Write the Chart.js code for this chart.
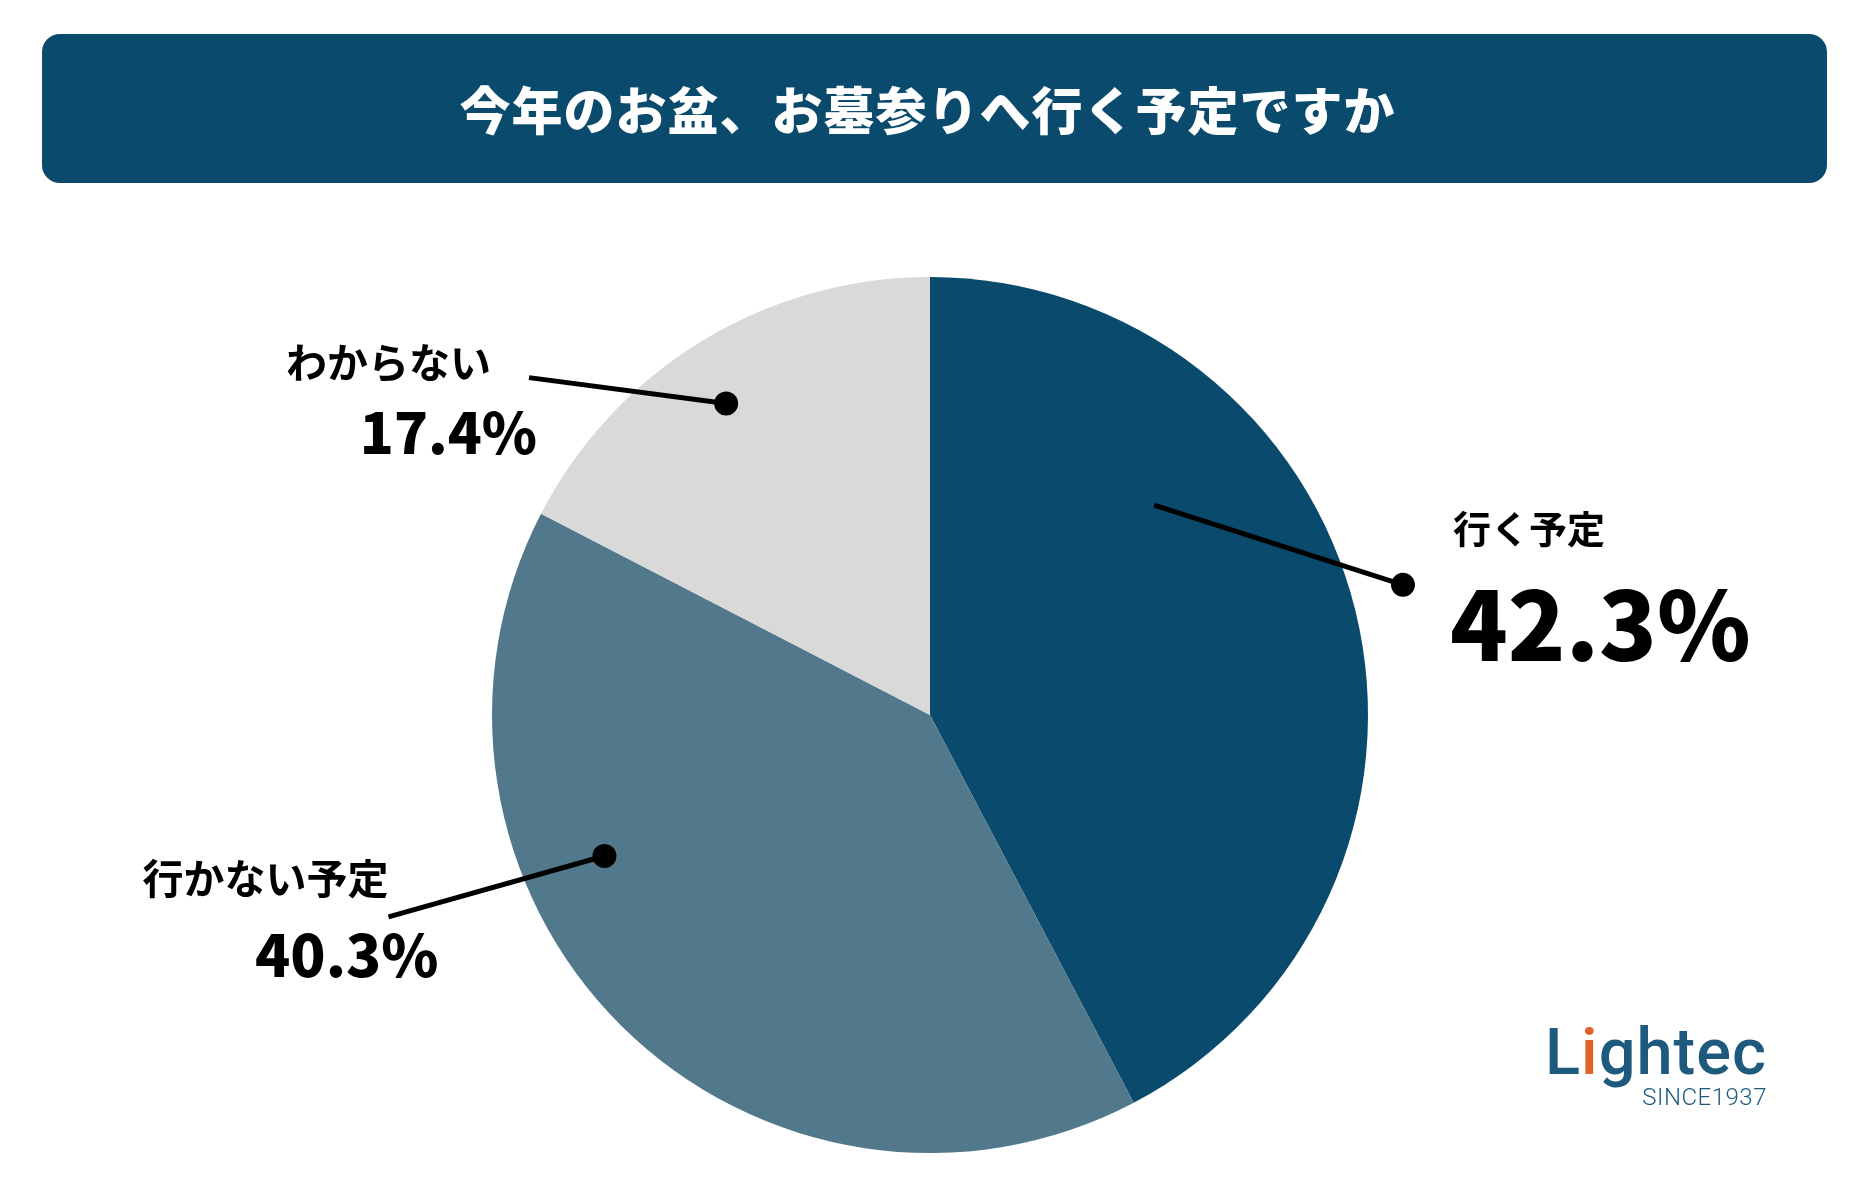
<!DOCTYPE html>
<html lang="ja">
<head>
<meta charset="utf-8">
<script src="https://cdn.jsdelivr.net/npm/chart.js@4.4.0/dist/chart.umd.min.js"></script>
<style>
  html, body { margin: 0; padding: 0; background: #fff; }
  #wrap { position: relative; width: 1874px; height: 1190px; overflow: hidden; }
  #title {
    position: absolute; left: 42px; top: 34px; width: 1785px; height: 149px;
    background: #0a4a6c; border-radius: 18px;
    color: #fff; font-family: "Noto Sans CJK JP", sans-serif; font-weight: 900;
    font-size: 51px; line-height: 149px; text-align: center; letter-spacing: 1px;
    box-sizing: border-box; padding-right: 14px;
  }
  #chart { position: absolute; left: 0; top: 0; }
  #logo { position: absolute; right: 107px; top: 1012px; text-align: right; }
  #logo .name { font-family: Roboto, sans-serif; font-weight: 500; font-size: 65px; color: #1e5a7e; line-height: 80px; letter-spacing: 1px; }
  #logo .name span { color: #e0622a; }
  #logo .since { font-family: Roboto, sans-serif; font-weight: 300; font-size: 24px; color: #1e5a7e; line-height: 22px; margin-top: -6px; letter-spacing: 0.5px; }
</style>
</head>
<body>
<div id="wrap">
  <div id="title">今年のお盆、お墓参りへ行く予定ですか</div>
  <canvas id="chart" width="1874" height="1190"></canvas>
  <div id="logo">
    <div class="name">L<span>i</span>ghtec</div>
    <div class="since">SINCE1937</div>
  </div>
</div>
<script>
// data
var categories = ['行く予定', '行かない予定', 'わからない'];
var shares = [42.3, 40.3, 17.4];
var sliceColors = ['#0a4a6c', '#52788c', '#d9d9d9'];

// callout styling per slice: where the dot sits inside the slice, where the line ends, where the texts go
var callouts = [
  { frac: 0.49, dotR: 1.12, end: [-0.568, -0.182], align: 'left',  labelAt: [50, -56, 'dot'], pctAt: [47, 40, 'dot'], labelSize: 38, pctSize: 95 },
  { frac: 0.65, dotR: 0.81, end: [-0.493, 0.139],  align: 'right', labelAt: [0, -38, 'end'],  pctAt: [50, 38, 'end'], labelSize: 41, pctSize: 58 },
  { frac: 0.47, dotR: 0.85, end: [-0.45, -0.059],  align: 'right', labelAt: [-38, -15, 'end'], pctAt: [8, 55, 'end'], labelSize: 41, pctSize: 56 }
];

var calloutPlugin = {
  id: 'callouts',
  afterDatasetsDraw(chart) {
    var ctx = chart.ctx;
    var arcs = chart.getDatasetMeta(0).data;
    arcs.forEach(function(arc, i) {
      var c = callouts[i];
      var r = arc.outerRadius;
      var a = arc.startAngle + c.frac * (arc.endAngle - arc.startAngle);
      var dot = { x: arc.x + Math.cos(a) * r * c.dotR, y: arc.y + Math.sin(a) * r * c.dotR };
      var end = { x: dot.x + c.end[0] * r, y: dot.y + c.end[1] * r };

      ctx.save();
      ctx.strokeStyle = '#000';
      ctx.lineWidth = 5;
      ctx.beginPath();
      ctx.moveTo(end.x, end.y);
      ctx.lineTo(dot.x, dot.y);
      ctx.stroke();
      ctx.fillStyle = '#000';
      ctx.beginPath();
      ctx.arc(dot.x, dot.y, 12, 0, Math.PI * 2);
      ctx.fill();

      ctx.textAlign = c.align;
      ctx.textBaseline = 'middle';
      var lb = c.labelAt[2] === 'dot' ? dot : end;
      ctx.font = '700 ' + c.labelSize + 'px "Noto Sans CJK JP", sans-serif';
      ctx.fillText(categories[i], lb.x + c.labelAt[0], lb.y + c.labelAt[1]);
      var pb = c.pctAt[2] === 'dot' ? dot : end;
      ctx.font = '900 ' + c.pctSize + 'px "Noto Sans CJK JP", sans-serif';
      ctx.fillText(shares[i].toFixed(1) + '%', pb.x + c.pctAt[0], pb.y + c.pctAt[1]);
      ctx.restore();
    });
  }
};

new Chart(document.getElementById('chart'), {
  type: 'pie',
  data: {
    labels: categories,
    datasets: [{
      data: shares,
      backgroundColor: sliceColors,
      borderWidth: 0
    }]
  },
  options: {
    responsive: false,
    animation: false,
    layout: { padding: { top: 277, bottom: 37, left: 492, right: 506 } },
    plugins: { legend: { display: false }, tooltip: { enabled: false } }
  },
  plugins: [calloutPlugin]
});
</script>
</body>
</html>
